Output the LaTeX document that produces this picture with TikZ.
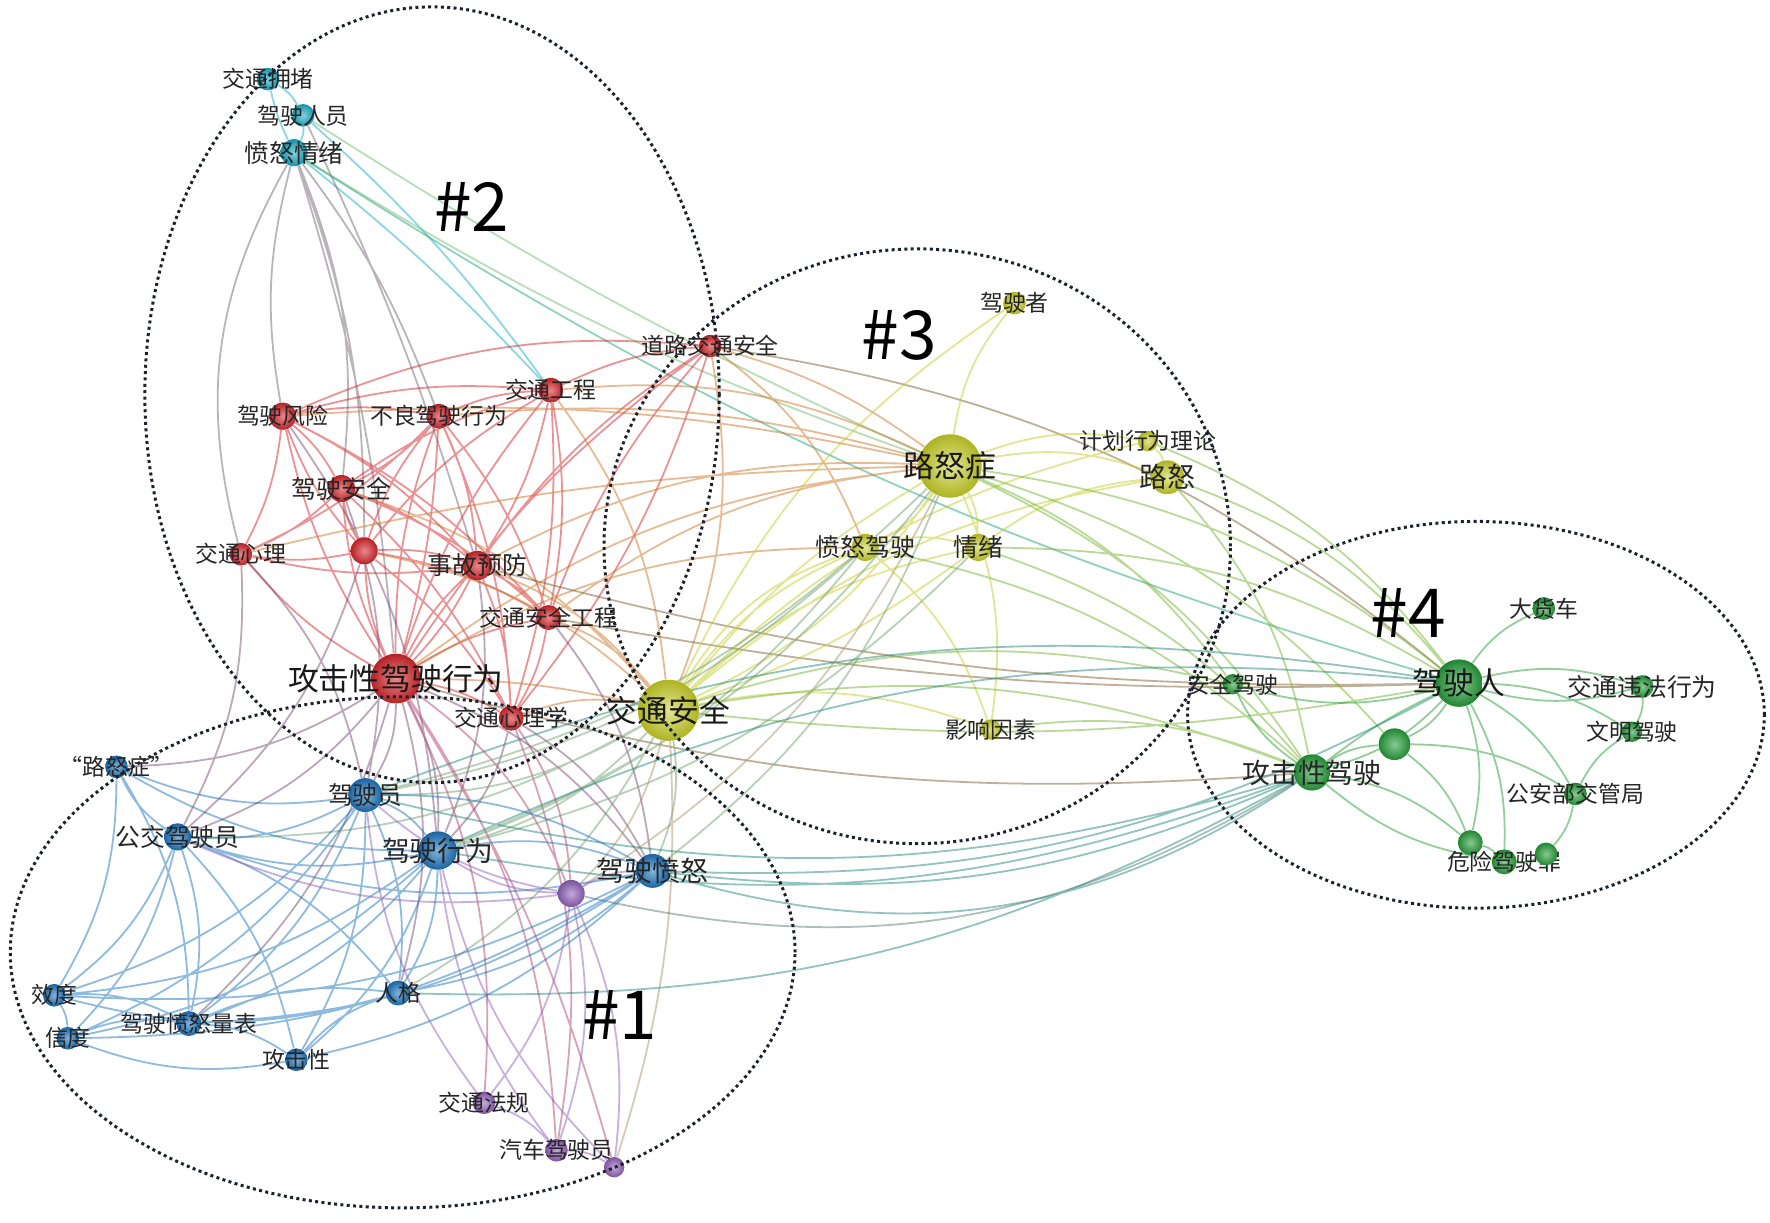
\documentclass[tikz,border=0pt]{standalone}
\usepackage{fontspec}
\setmainfont{Noto Sans CJK SC}
\usetikzlibrary{backgrounds}
\definecolor{cR}{RGB}{214,38,44}
\definecolor{cC}{RGB}{28,172,196}
\definecolor{cY}{RGB}{198,204,38}
\definecolor{cG}{RGB}{38,158,58}
\definecolor{cB}{RGB}{30,118,190}
\definecolor{cP}{RGB}{146,98,186}
\definecolor{cK}{RGB}{28,34,44}
\begin{document}
\begin{tikzpicture}[x=0.02cm, y=-0.02cm,
	kw/.style={circle, inner sep=0pt, shading=radial},
	kR/.style={kw, inner color=cR!55!white, outer color=cR!85!black},
	kC/.style={kw, inner color=cC!55!white, outer color=cC!85!black},
	kY/.style={kw, inner color=cY!50!white, outer color=cY!88!black},
	kG/.style={kw, inner color=cG!55!white, outer color=cG!85!black},
	kB/.style={kw, inner color=cB!55!white, outer color=cB!85!black},
	kP/.style={kw, inner color=cP!55!white, outer color=cP!85!black},
	lbA/.style={text=black!85, inner sep=0pt, font=\fontsize{11.5}{12}\selectfont},
	lbB/.style={text=black!85, inner sep=0pt, font=\fontsize{12.5}{13}\selectfont},
	lbC/.style={text=black!85, inner sep=0pt, font=\fontsize{14}{15}\selectfont},
	lbD/.style={text=black!90, inner sep=0pt, font=\fontsize{15.5}{16}\selectfont},
	lk/.style={line width=0.9pt, draw opacity=0.5, bend left=15},
	grp/.style={draw=cK, line width=1.5pt, dash pattern=on 1.5pt off 1.7pt},
	glab/.style={text=black, inner sep=0pt, font=\fontsize{34}{34}\selectfont}]
	\useasboundingbox (0,0) rectangle (1565,1080.5);
	
	% cluster 2
	\node[kC, minimum size=0.40cm, label={[lbA, name=jtydT]center:交通拥堵}] (jtyd) at (237,70) {};
	\node[kC, minimum size=0.40cm, label={[lbA, name=jsryT]center:驾驶人员}] (jsry) at (268,102) {};
	\node[kC, minimum size=0.48cm, label={[lbB, name=fnqxT]center:愤怒情绪}] (fnqx) at (260,135) {};
	\node[kR, minimum size=0.40cm, label={[lbA, name=dljtaqT]center:道路交通安全}] (dljtaq) at (628,306) {};
	\node[kR, minimum size=0.44cm, label={[lbA, name=jtgcT]center:交通工程}] (jtgc) at (487,345) {};
	\node[kR, minimum size=0.48cm, label={[lbA, name=jsfxT]center:驾驶风险}] (jsfx) at (250,368) {};
	\node[kR, minimum size=0.44cm, label={[lbA, name=bljsxwT]center:不良驾驶行为}] (bljsxw) at (388,368) {};
	\node[kR, minimum size=0.48cm, label={[lbB, name=jsaqT]center:驾驶安全}] (jsaq) at (302,432) {};
	\node[kR, minimum size=0.40cm, label={[lbA, name=jtxlT]center:交通心理}] (jtxl) at (213,490) {};
	\node[kR, minimum size=0.48cm] (rx) at (322,487) {};
	\node[kR, minimum size=0.52cm, label={[lbB, name=sgyfT]center:事故预防}] (sgyf) at (422,500) {};
	\node[kR, minimum size=0.44cm, label={[lbA, name=jtaqgcT]center:交通安全工程}] (jtaqgc) at (485,546) {};
	\node[kR, minimum size=0.88cm, label={[lbD, name=gjxjsxwT]center:攻击性驾驶行为}] (gjxjsxw) at (350,600) {};
	\node[kR, minimum size=0.44cm, label={[lbA, name=jtxlxT]center:交通心理学}] (jtxlx) at (452,635) {};
	
	% cluster 3
	\node[kY, minimum size=0.40cm, label={[lbA, name=jszT]center:驾驶者}] (jsz) at (897,268) {};
	\node[kY, minimum size=1.12cm, label={[lbD, name=lnzT]center:路怒症}] (lnz) at (840,412) {};
	\node[kY, minimum size=0.36cm, label={[lbA, name=jhxwllT]center:计划行为理论}] (jhxwll) at (1015,390) {};
	\node[kY, minimum size=0.60cm, label={[lbC, name=lnT]center:路怒}] (ln) at (1032,422) {};
	\node[kY, minimum size=0.48cm, label={[lbB, name=fnjsT]center:愤怒驾驶}] (fnjs) at (765,484) {};
	\node[kY, minimum size=0.48cm, label={[lbB, name=qxT]center:情绪}] (qx) at (865,484) {};
	\node[kY, minimum size=0.36cm, label={[lbA, name=yxysT]center:影响因素}] (yxys) at (876,645) {};
	\node[kY, minimum size=1.08cm, label={[lbD, name=jtaqT]center:交通安全}] (jtaq) at (591,628) {};
	
	% cluster 4
	\node[kG, minimum size=0.40cm, label={[lbA, name=dhcT]center:大货车}] (dhc) at (1365,538) {};
	\node[kG, minimum size=0.84cm, label={[lbD, name=jsrT]center:驾驶人}] (jsr) at (1290,604) {};
	\node[kG, minimum size=0.36cm, label={[lbA, name=aqjsT]center:安全驾驶}] (aqjs) at (1090,605) {};
	\node[kG, minimum size=0.40cm, label={[lbB, name=jtwfxwT]center:交通违法行为}] (jtwfxw) at (1452,607) {};
	\node[kG, minimum size=0.36cm, label={[lbA, name=wmjsT]center:文明驾驶}] (wmjs) at (1443,647) {};
	\node[kG, minimum size=0.56cm] (gx) at (1233,658) {};
	\node[kG, minimum size=0.64cm, label={[lbC, name=gjxjsT]center:攻击性驾驶}] (gjxjs) at (1160,683) {};
	\node[kG, minimum size=0.40cm, label={[lbA, name=gabjgjT]center:公安部交管局}] (gabjgj) at (1393,702) {};
	\node[kG, minimum size=0.44cm] (wx1) at (1300,745) {};
	\node[kG, minimum size=0.44cm, label={[lbA, name=wxjszT]center:危险驾驶罪}] (wxjsz) at (1330,762) {};
	\node[kG, minimum size=0.40cm] (wx2) at (1367,755) {};
	
	% cluster 1
	\node[kB, minimum size=0.40cm, label={[lbA, name=lnzqT]center:“路怒症”}] (lnzq) at (103,678) {};
	\node[kB, minimum size=0.48cm, label={[lbB, name=gjjsyT]center:公交驾驶员}] (gjjsy) at (157,740) {};
	\node[kB, minimum size=0.60cm, label={[lbB, name=jsyT]center:驾驶员}] (jsy) at (323,703) {};
	\node[kB, minimum size=0.68cm, label={[lbC, name=jsxwT]center:驾驶行为}] (jsxw) at (387,752) {};
	\node[kB, minimum size=0.60cm, label={[lbC, name=jsfnT]center:驾驶愤怒}] (jsfn) at (577,770) {};
	\node[kB, minimum size=0.44cm, label={[lbA, name=rgT]center:人格}] (rg) at (352,878) {};
	\node[kB, minimum size=0.40cm, label={[lbA, name=xdT]center:效度}] (xd) at (48,880) {};
	\node[kB, minimum size=0.40cm, label={[lbA, name=xduT]center:信度}] (xdu) at (60,918) {};
	\node[kB, minimum size=0.44cm, label={[lbA, name=jsfnlbT]center:驾驶愤怒量表}] (jsfnlb) at (167,905) {};
	\node[kB, minimum size=0.40cm, label={[lbA, name=gjxT]center:攻击性}] (gjx) at (262,937) {};
	\node[kP, minimum size=0.48cm] (px) at (505,790) {};
	\node[kP, minimum size=0.40cm, label={[lbA, name=jtfgT]center:交通法规}] (jtfg) at (428,975) {};
	\node[kP, minimum size=0.40cm, label={[lbA, name=qcjsyT]center:汽车驾驶员}] (qcjsy) at (492,1017) {};
	\node[kP, minimum size=0.36cm] (pz) at (543,1032) {};
	
	\begin{pgfonlayer}{background}
		\fill[white] (0,0) rectangle (1565,1080.5);
		% links inside cluster 2
		\draw[lk, cC] (jtyd) to (jsry) (jsry) to (fnqx) (fnqx) to[bend left=6] (jtyd)
			(fnqx) to[bend left=4] (jtgc) (jsry) to[bend left=6] (jtgc);
		\draw[lk, cC!50!cR] (fnqx) to[bend right=12] (jsfx) (fnqx) to[bend right=22] (jtxl) (fnqx) to[bend left=14] (jsaq)
			(fnqx) to[bend left=10] (rx) (fnqx) to[bend left=8] (bljsxw) (fnqx) to[bend left=6] (gjxjsxw) (jsry) to[bend left=4] (sgyf);
		\draw[lk, cC!50!cY] (fnqx) to[bend right=6] (lnz) (jsry) to[bend right=4] (lnz);
		\draw[lk, cC!50!cG] (fnqx) to[bend right=8] (jsr);
		\draw[lk, cR, bend left=10]
			(gjxjsxw) to (jsfx) (gjxjsxw) to (bljsxw) (gjxjsxw) to (jsaq) (gjxjsxw) to (jtxl) (gjxjsxw) to (rx)
			(gjxjsxw) to (sgyf) (gjxjsxw) to (jtaqgc) (gjxjsxw) to (jtxlx) (gjxjsxw) to (jtgc) (gjxjsxw) to (dljtaq)
			(gjxjsxw) to[bend right=8] (sgyf) (gjxjsxw) to[bend right=6] (bljsxw)
			(rx) to (jsfx) (rx) to (bljsxw) (rx) to (jsaq) (rx) to (jtxl) (rx) to (sgyf) (rx) to (jtaqgc) (rx) to (jtgc) (rx) to (jtxlx)
			(jsfx) to (bljsxw) (jsfx) to (jsaq) (jsfx) to (jtxl) (jsfx) to (sgyf) (jsfx) to (jtgc) (jsfx) to (jtaqgc)
			(bljsxw) to (jsaq) (bljsxw) to (jtgc) (bljsxw) to (sgyf) (bljsxw) to (jtaqgc) (bljsxw) to (jtxl) (bljsxw) to (jtxlx)
			(jsaq) to (jtxl) (jsaq) to (sgyf) (jsaq) to (jtaqgc) (jsaq) to (jtgc) (jsaq) to (jtxlx)
			(jtgc) to (sgyf) (jtgc) to (jtaqgc) (jtgc) to (jtxlx) (jtgc) to (dljtaq)
			(sgyf) to (jtaqgc) (sgyf) to (jtxlx) (sgyf) to (jtxl) (sgyf) to (dljtaq)
			(jtaqgc) to (jtxlx) (jtaqgc) to (dljtaq) (dljtaq) to[bend right=14] (jsfx) (dljtaq) to (jtxlx);
		% links from cluster 2 to the others
		\draw[lk, cR!50!cY]
			(gjxjsxw) to (lnz) (gjxjsxw) to[bend left=6] (jtaq) (sgyf) to (lnz) (jtgc) to (lnz) (dljtaq) to[bend left=10] (lnz)
			(bljsxw) to[bend left=10] (lnz) (jtaqgc) to (jtaq) (jtxlx) to (jtaq) (sgyf) to (jtaq) (jtgc) to (jtaq)
			(dljtaq) to (jtaq) (gjxjsxw) to (fnjs) (jsfx) to[bend left=8] (lnz) (jtaqgc) to (lnz) (jsaq) to (jtaq)
			(rx) to (jtaq) (jtxl) to[bend left=6] (lnz) (dljtaq) to (fnjs);
		\draw[lk, cR!50!cB]
			(gjxjsxw) to (jsy) (gjxjsxw) to (jsxw) (gjxjsxw) to (gjjsy) (gjxjsxw) to (jsfn) (gjxjsxw) to (rg)
			(gjxjsxw) to (lnzq) (jtxl) to (jsy) (jsfx) to (jsxw) (jtxlx) to (jsxw) (jtxlx) to (jsfn) (jsaq) to (jsy)
			(gjxjsxw) to (jsfnlb) (rx) to (gjjsy) (jtaqgc) to (jsfn) (sgyf) to (jsxw) (jtxl) to (gjjsy);
		\draw[lk, cR!50!cG] (jtaqgc) to[bend right=6] (jsr) (sgyf) to[bend right=8] (jsr) (gjxjsxw) to[bend right=10] (gjxjs) (dljtaq) to (jsr);
		\draw[lk, cR!50!cP] (gjxjsxw) to (px) (jtxlx) to (px) (gjxjsxw) to (qcjsy) (gjxjsxw) to[bend left=8] (pz)
			(gjxjsxw) to (jtfg) (jtxlx) to (qcjsy);
		% links inside cluster 3
		\draw[lk, cY]
			(lnz) to (jsz) (lnz) to (jhxwll) (lnz) to (ln) (lnz) to (fnjs) (lnz) to (qx) (lnz) to (yxys) (lnz) to (jtaq)
			(lnz) to[bend right=10] (jtaq) (jtaq) to (fnjs) (jtaq) to (qx) (jtaq) to (ln) (jtaq) to (yxys)
			(jtaq) to[bend right=8] (qx) (jtaq) to (jhxwll) (fnjs) to (qx) (qx) to (ln)
			(fnjs) to (yxys) (jhxwll) to (ln) (jtaq) to (jsz) (fnjs) to[bend right=20] (jtaq);
		\draw[lk, cY!50!cG]
			(lnz) to (jsr) (lnz) to (gjxjs) (qx) to (jsr) (qx) to (gjxjs) (ln) to (jsr) (jtaq) to[bend right=8] (jsr)
			(jtaq) to (gjxjs) (fnjs) to (gjxjs) (yxys) to (gjxjs) (lnz) to (aqjs) (ln) to (gjxjs) (jtaq) to (aqjs)
			(jhxwll) to (jsr) (lnz) to (gx);
		\draw[lk, cY!50!cB]
			(jtaq) to (jsy) (jtaq) to (jsxw) (jtaq) to (jsfn) (jtaq) to (gjjsy) (lnz) to (jsxw) (lnz) to (jsy)
			(fnjs) to (jsxw) (jtaq) to (rg) (fnjs) to (jsy) (lnz) to (jsfn) (qx) to (jsxw);
		\draw[lk, cY!50!cP] (jtaq) to (px) (jtaq) to[bend left=10] (pz) (lnz) to (px);
		% links inside cluster 4
		\draw[lk, cG]
			(jsr) to (dhc) (jsr) to (jtwfxw) (jsr) to[bend right=15] (jtwfxw) (jsr) to (wmjs) (jsr) to (gabjgj) (jsr) to (wxjsz)
			(jsr) to (wx1) (jsr) to (gx) (jsr) to (gjxjs) (jsr) to[bend right=6] (gjxjs) (jsr) to (aqjs)
			(gjxjs) to (aqjs) (gjxjs) to (gx) (gjxjs) to (wx1) (gjxjs) to[bend right=15] (wxjsz)
			(gx) to (gabjgj) (gx) to (wx1) (gabjgj) to (wmjs) (gabjgj) to (wx2) (jtwfxw) to (wmjs)
			(wx2) to (wxjsz) (wx1) to (wxjsz);
		\draw[lk, cG!50!cB]
			(gjxjs) to (jsfn) (gjxjs) to[bend left=25] (jsfn) (gjxjs) to (jsxw) (jsr) to (jsfn)
			(jsy) to (jsr) (jsxw) to (jsr) (gjxjs) to (jsy) (gjxjs) to (rg);
		\draw[lk, cG!50!cP] (gjxjs) to[bend left=22] (px);
		% links inside cluster 1
		\draw[lk, cB]
			(jsy) to (jsxw) (jsy) to (gjjsy) (jsy) to (lnzq) (jsy) to (rg) (jsy) to (xd) (jsy) to (xdu) (jsy) to (jsfnlb)
			(jsy) to (gjx) (jsy) to (jsfn) (jsxw) to (gjjsy) (jsxw) to (lnzq) (jsxw) to (rg) (jsxw) to (xd) (jsxw) to (xdu)
			(jsxw) to (jsfnlb) (jsxw) to (gjx) (jsxw) to (jsfn) (gjjsy) to (lnzq) (gjjsy) to (xd) (gjjsy) to (xdu)
			(gjjsy) to (jsfnlb) (gjjsy) to (gjx) (gjjsy) to (rg) (xd) to (xdu) (xd) to (jsfnlb) (xdu) to (jsfnlb)
			(jsfnlb) to (gjx) (jsfnlb) to (rg) (gjx) to (rg) (jsfn) to (xd) (jsfn) to (jsfnlb) (jsfn) to (gjx)
			(jsfn) to (rg) (lnzq) to (jsfnlb) (lnzq) to (xd) (rg) to (xd) (gjx) to (xdu) (jsfn) to (xdu) (jsfn) to (gjjsy);
		\draw[lk, cP]
			(px) to (jsxw) (px) to (jsy) (px) to (jsfn) (px) to (jtfg) (px) to (qcjsy) (px) to (pz) (px) to (gjjsy)
			(jtfg) to (qcjsy) (qcjsy) to (pz) (jtfg) to (jsy) (pz) to (jsxw) (qcjsy) to (jsxw);
	\end{pgfonlayer}
	
	% groups
	\draw[grp] (356,842) ellipse [x radius=6.94cm, y radius=4.52cm];
	\draw[grp] (382,349) ellipse [x radius=5.08cm, y radius=6.86cm];
	\draw[grp] (811,483) ellipse [x radius=5.54cm, y radius=5.26cm];
	\draw[grp] (1305,632) ellipse [x radius=5.10cm, y radius=3.42cm];
	\node[glab] (g1) at (548,897) {\#1};
	\node[glab] (g2) at (417,183) {\#2};
	\node[glab] (g3) at (795,297) {\#3};
	\node[glab] (g4) at (1245,542) {\#4};
\end{tikzpicture}
\end{document}
